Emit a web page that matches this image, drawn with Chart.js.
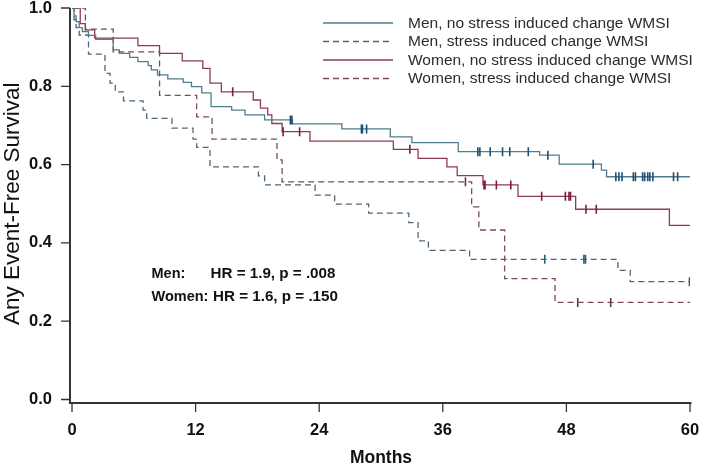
<!DOCTYPE html>
<html><head><meta charset="utf-8">
<script src="https://cdn.jsdelivr.net/npm/chart.js@4"></script>
<style>html,body{margin:0;padding:0;background:#fff}#wrap{width:704px;height:470px}</style>
</head><body><div id="wrap"><canvas id="c" width="704" height="470"></canvas></div>
<script>
// ---- data ----
const monthTicks = [0, 12, 24, 36, 48, 60];
const survivalTicks = [0.0, 0.2, 0.4, 0.6, 0.8, 1.0];
const seriesLabels = [
  'Men, no stress induced change WMSI',
  'Men, stress induced change WMSI',
  'Women, no stress induced change WMSI',
  'Women, stress induced change WMSI'
];
const statsGroups = ['Men:', 'Women:'];
const statsTexts = ['HR = 1.9, p = .008', 'HR = 1.6, p = .150'];

// Men, no stress induced change
const menNoTime = [0, 0.2, 0.4, 0.7, 1.0, 1.6, 2.3, 4.0, 4.6, 5.6, 6.4, 7.4, 7.7, 8.3, 9.3, 10.8, 11.6, 12.6, 13.5, 15.5, 16.8, 18.7, 21.4, 26.2, 30.9, 33.0, 37.5, 45.4, 47.3, 51.4, 51.9, 60];
const menNoSurv = [1.0, 0.98, 0.965, 0.95, 0.94, 0.93, 0.92, 0.893, 0.884, 0.874, 0.863, 0.853, 0.842, 0.829, 0.819, 0.810, 0.799, 0.783, 0.748, 0.739, 0.727, 0.714, 0.704, 0.691, 0.671, 0.656, 0.633, 0.624, 0.601, 0.586, 0.569, 0.569];
const menNoCensor = [21.2, 21.35, 28.1, 28.2, 28.6, 39.4, 39.6, 40.6, 41.8, 42.5, 44.3, 46.2, 50.6, 52.8, 53.1, 53.4, 54.5, 54.7, 55.4, 55.6, 55.9, 56.1, 56.4, 58.4, 58.8];

// Men, stress induced change
const menStTime = [0, 0.2, 0.4, 0.7, 1.6, 3.2, 3.7, 4.2, 5.0, 6.9, 7.25, 9.7, 11.75, 12.1, 13.4, 18.1, 18.7, 23.6, 25.5, 28.8, 32.7, 33.6, 34.6, 38.6, 53.0, 54.2, 60];
const menStSurv = [1.0, 0.97, 0.95, 0.931, 0.882, 0.833, 0.808, 0.786, 0.763, 0.739, 0.718, 0.693, 0.665, 0.644, 0.594, 0.571, 0.548, 0.522, 0.499, 0.476, 0.452, 0.405, 0.381, 0.358, 0.330, 0.301, 0.301];
const menStCensor = [45.9, 49.7, 49.85, 59.95];

// Women, no stress induced change
const womNoTime = [0, 0.8, 1.3, 2.2, 6.4, 8.5, 10.7, 12.7, 13.4, 14.5, 17.6, 18.3, 19.0, 19.4, 20.4, 23.1, 31.2, 33.6, 36.4, 37.4, 39.9, 43.3, 48.9, 58.0, 60];
const womNoSurv = [1.0, 0.96, 0.944, 0.923, 0.904, 0.884, 0.865, 0.846, 0.808, 0.786, 0.765, 0.744, 0.727, 0.705, 0.684, 0.660, 0.639, 0.616, 0.594, 0.572, 0.548, 0.519, 0.486, 0.445, 0.445];
const womNoCensor = [15.6, 20.5, 22.1, 32.8, 40.0, 40.1, 41.2, 42.6, 45.6, 47.9, 48.25, 48.4, 49.9, 50.9];

// Women, stress induced change
const womStTime = [0, 1.3, 4.0, 8.5, 12.1, 13.6, 19.9, 20.4, 38.8, 39.5, 42.0, 46.9, 60];
const womStSurv = [1.0, 0.946, 0.888, 0.777, 0.722, 0.665, 0.612, 0.556, 0.492, 0.433, 0.309, 0.248, 0.248];
const womStCensor = [38.2, 49.1, 52.3];

// ---- styles ----
const FONT = "'Liberation Sans', Arial, Helvetica, sans-serif";
const lineColors = ['#4f7d8d', '#4d6677', '#8e3b5a', '#7a4a5a'];
const censorColors = ['#1d4f73', '#2f5d70', '#7d1b3e', '#6e3146'];
const dashes = [[], [6, 4], [], [6, 4]];

function survAt(times, surv, t) {
  let v = surv[0];
  for (let i = 0; i < times.length; i++) { if (times[i] <= t) v = surv[i]; }
  return v;
}
const curves = [
  [menNoTime, menNoSurv, menNoCensor],
  [menStTime, menStSurv, menStCensor],
  [womNoTime, womNoSurv, womNoCensor],
  [womStTime, womStSurv, womStCensor]
];
const datasets = [];
curves.forEach((c, i) => {
  datasets.push({
    type: 'line', label: seriesLabels[i],
    data: c[0].map((t, k) => ({x: t, y: c[1][k]})),
    stepped: true, borderColor: lineColors[i], borderWidth: 1.3,
    borderDash: dashes[i], pointRadius: 0, fill: false, order: 2
  });
});
curves.forEach((c, i) => {
  datasets.push({
    type: 'scatter', label: seriesLabels[i] + ' (censored)',
    data: c[2].map(t => ({x: t, y: survAt(c[0], c[1], t)})),
    pointStyle: 'line', rotation: 90, pointRadius: 4.5,
    borderColor: censorColors[i], backgroundColor: censorColors[i],
    pointBorderWidth: 1.6, showLine: false, order: 1
  });
});

const axesPlugin = {
  id: 'offsetAxes',
  afterDraw(chart) {
    const {ctx, scales: {x, y}} = chart;
    const axX = x.getPixelForValue(0) - 2;
    const axY = y.getPixelForValue(0) + 3.5;
    ctx.save();
    ctx.strokeStyle = '#333';
    ctx.lineWidth = 2;
    ctx.beginPath();
    ctx.moveTo(axX, y.getPixelForValue(1));
    ctx.lineTo(axX, axY);
    ctx.lineTo(x.getPixelForValue(60) + 1.5, axY);
    ctx.stroke();
    ctx.lineWidth = 1.3;
    ctx.beginPath();
    survivalTicks.forEach(v => { const p = y.getPixelForValue(v); ctx.moveTo(axX - 9, p); ctx.lineTo(axX, p); });
    monthTicks.forEach(v => { const p = x.getPixelForValue(v); ctx.moveTo(p, axY); ctx.lineTo(p, axY + 9); });
    ctx.stroke();

    // legend
    ctx.font = '15.5px ' + FONT;
    ctx.textBaseline = 'middle';
    ctx.fillStyle = '#2b2b2b';
    seriesLabels.forEach((lab, i) => {
      const yy = 23 + i * 18.5;
      ctx.save();
      ctx.strokeStyle = lineColors[i];
      ctx.lineWidth = 1.3;
      ctx.setLineDash(dashes[i]);
      ctx.beginPath(); ctx.moveTo(323, yy); ctx.lineTo(393, yy); ctx.stroke();
      ctx.restore();
      ctx.fillText(lab, 408, yy + 0.5);
    });

    // statistics annotation
    ctx.fillStyle = '#111';
    statsGroups.forEach((g, i) => {
      const yy = 274 + i * 23;
      ctx.font = 'bold 14.5px ' + FONT;
      ctx.fillText(g, 151.5, yy);
      ctx.font = 'bold 15.2px ' + FONT;
      ctx.fillText(statsTexts[i], i === 0 ? 210.5 : 213, yy);
    });
    ctx.restore();
  }
};

new Chart(document.getElementById('c'), {
  data: {datasets},
  plugins: [axesPlugin],
  options: {
    responsive: false, devicePixelRatio: 1, animation: false,
    layout: {padding: {top: 8, right: 14, left: 0, bottom: 0}},
    plugins: {legend: {display: false}, tooltip: {enabled: false}},
    scales: {
      x: {
        type: 'linear', min: 0, max: 60,
        afterBuildTicks: s => { s.ticks = monthTicks.map(v => ({value: v})); },
        afterFit: s => { s.height = 70.5; s.paddingLeft = 0; s.paddingRight = 0; },
        ticks: {callback: v => String(v), color: '#111', padding: 23, maxRotation: 0, autoSkip: false,
                font: {family: FONT, size: 16.5, weight: 'bold', lineHeight: 1}},
        grid: {display: false, drawTicks: false},
        border: {display: false},
        title: {display: true, text: 'Months', color: '#111', padding: {top: 0, bottom: 3},
                font: {family: FONT, size: 17.5, weight: 'bold', lineHeight: 1}}
      },
      y: {
        type: 'linear', min: 0, max: 1,
        afterBuildTicks: s => { s.ticks = survivalTicks.map(v => ({value: v})); },
        afterFit: s => { s.width = 72; s.paddingTop = 0; s.paddingBottom = 0; },
        ticks: {callback: v => Number(v).toFixed(1), color: '#111', padding: 20,
                font: {family: FONT, size: 16.5, weight: 'bold', lineHeight: 1}},
        grid: {display: false, drawTicks: false},
        border: {display: false},
        title: {display: true, text: 'Any Event-Free Survival', color: '#111', padding: {top: 2, bottom: 0},
                font: {family: FONT, size: 22.5, weight: 'normal', lineHeight: 1}}
      }
    }
  }
});
</script></body></html>
